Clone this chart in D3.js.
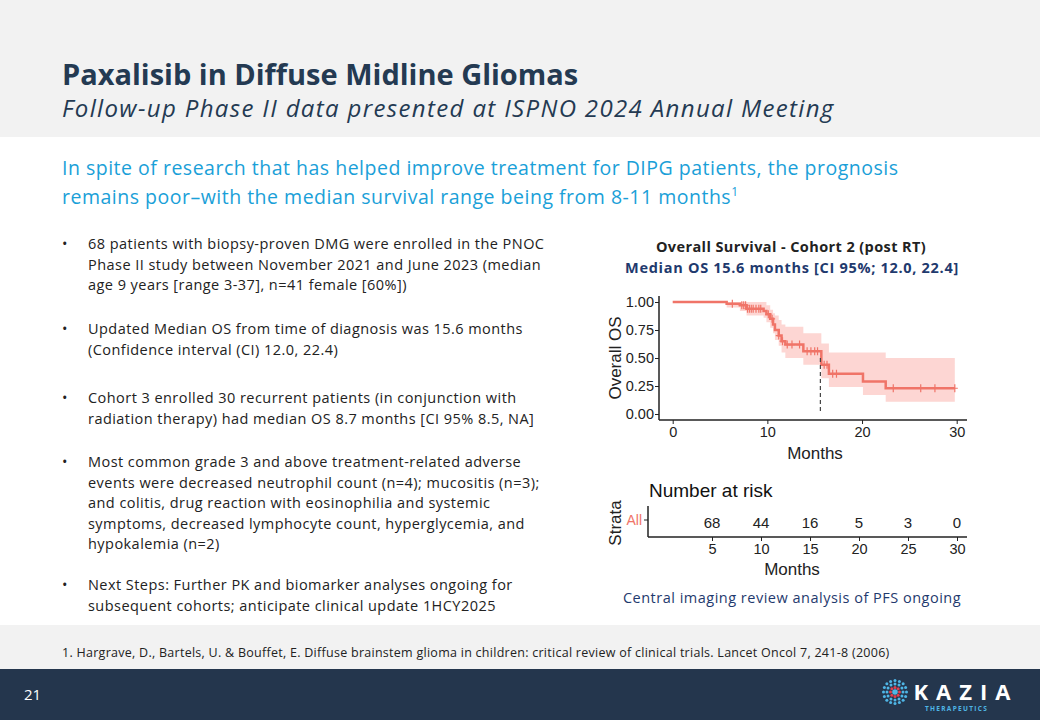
<!DOCTYPE html><html><head><meta charset="utf-8"><script src="https://cdn.jsdelivr.net/npm/d3@7"></script>
<style>body{margin:0}</style></head><body>
<svg id="s" width="1040" height="720" font-family="Open Sans, sans-serif"></svg>
<script>
const survT=[0,5.7,7.1,7.8,9.6,9.9,10.3,10.6,10.8,11.2,11.5,11.9,13.8,15.7,16.5,20.1,22.5,29.8];
const survS=[1,0.985,0.97,0.94,0.92,0.89,0.85,0.80,0.75,0.70,0.65,0.62,0.56,0.44,0.36,0.29,0.23,0.23];
const ciUp=[1,1,1,1,1,0.97,0.93,0.90,0.88,0.84,0.80,0.78,0.72,0.63,0.55,0.55,0.50,0.50];
const ciLo=[1,0.95,0.92,0.88,0.86,0.82,0.77,0.72,0.66,0.61,0.55,0.50,0.44,0.32,0.24,0.17,0.11,0.11];
const censor=[6.3,7.3,7.5,7.7,7.9,8.1,8.3,8.5,8.8,9.1,9.3,10.1,10.5,11.2,11.6,12.1,12.6,13.4,14.2,14.6,15.0,15.3,16.0,16.3,16.9,17.3,23.3,26.2,27.7,29.8];
const xTicks=[0,10,20,30], yTicks=[0,0.25,0.5,0.75,1];
const riskT=[5,10,15,20,25,30], riskN=[68,44,16,5,3,0];
const medianOS=15.6;
const bullets=[
["68 patients with biopsy-proven DMG were enrolled in the PNOC","Phase II study between November 2021 and June 2023 (median","age 9 years [range 3-37], n=41 female [60%])"],
["Updated Median OS from time of diagnosis was 15.6 months","(Confidence interval (CI) 12.0, 22.4)"],
["Cohort 3 enrolled 30 recurrent patients (in conjunction with","radiation therapy) had median OS 8.7 months [CI 95% 8.5, NA]"],
["Most common grade 3 and above treatment-related adverse","events were decreased neutrophil count (n=4); mucositis (n=3);","and colitis, drug reaction with eosinophilia and systemic","symptoms, decreased lymphocyte count, hyperglycemia, and","hypokalemia (n=2)"],
["Next Steps:  Further PK and biomarker analyses ongoing for","subsequent cohorts; anticipate clinical update 1HCY2025"]];
const bulletY=[249,334,403,467,590];
const svg=d3.select("#s");
svg.append("rect").attr("width",1040).attr("height",720).attr("fill","#fff");
svg.append("rect").attr("width",1040).attr("height",137).attr("fill","#f2f2f2");
svg.append("rect").attr("y",625).attr("width",1040).attr("height",44).attr("fill","#f2f2f2");
svg.append("rect").attr("y",669).attr("width",1040).attr("height",51).attr("fill","#24364d");
svg.append("text").attr("x",62).attr("y",85).attr("font-size",29).attr("font-weight",700).attr("fill","#243a52").text("Paxalisib in Diffuse Midline Gliomas");
svg.append("text").attr("x",62).attr("y",117).attr("font-size",24).attr("letter-spacing",1.35).attr("font-style","italic").attr("fill","#243a52").text("Follow-up Phase II data presented at ISPNO 2024 Annual Meeting");
svg.append("text").attr("x",62).attr("y",175).attr("font-size",19.5).attr("letter-spacing",0.5).attr("fill","#1aa0d8").text("In spite of research that has helped improve treatment for DIPG patients, the prognosis");
const l2=svg.append("text").attr("x",62).attr("y",204).attr("font-size",19.5).attr("letter-spacing",0.5).attr("fill","#1aa0d8").text("remains poor\u2013with the median survival range being from 8-11 months");
l2.append("tspan").attr("font-size",12).attr("dy",-8).text("1");
bullets.forEach((b,i)=>{svg.append("text").attr("x",62).attr("y",bulletY[i]).attr("font-size",14.5).attr("fill","#222").text("\u2022");
 b.forEach((l,j)=>svg.append("text").attr("x",88).attr("y",bulletY[i]+j*20.5).attr("font-size",14.5).attr("letter-spacing",0.45).attr("fill","#222").text(l));});
svg.append("text").attr("x",62).attr("y",657).attr("font-size",12.5).attr("letter-spacing",0.27).attr("fill","#222").text("1. Hargrave, D., Bartels, U. & Bouffet, E. Diffuse brainstem glioma in children: critical review of clinical trials. Lancet Oncol 7, 241-8 (2006)");
svg.append("text").attr("x",24).attr("y",700).attr("font-size",15).attr("fill","#fff").text("21");
svg.append("text").attr("x",966).attr("y",700).attr("text-anchor","middle").attr("font-size",22).attr("font-weight",700).attr("letter-spacing",8).attr("fill","#fff").text("KAZIA");
svg.append("text").attr("x",925).attr("y",711).attr("font-size",6.5).attr("font-weight",700).attr("letter-spacing",1.3).attr("fill","#4fb6e6").text("THERAPEUTICS");
[[4.5,8,"#e04050"],[8,12,"#4fb6e6"],[11.5,16,"#4fb6e6"]].forEach(([r,n,c])=>{for(let k=0;k<n;k++){const a=2*Math.PI*k/n;svg.append("circle").attr("cx",895+r*Math.cos(a)).attr("cy",692+r*Math.sin(a)).attr("r",1.5).attr("fill",c);}});
svg.append("circle").attr("cx",895).attr("cy",692).attr("r",2.8).attr("fill","#4fb6e6");
svg.append("text").attr("x",791).attr("y",252).attr("text-anchor","middle").attr("font-size",14.5).attr("letter-spacing",0.4).attr("font-weight",700).attr("fill","#222").text("Overall Survival - Cohort 2 (post RT)");
svg.append("text").attr("x",792).attr("y",273).attr("text-anchor","middle").attr("font-size",14.5).attr("letter-spacing",0.7).attr("font-weight",700).attr("fill","#1f3a6e").text("Median OS 15.6 months [CI 95%; 12.0, 22.4]");
svg.append("text").attr("x",792).attr("y",603).attr("text-anchor","middle").attr("font-size",14.5).attr("letter-spacing",0.5).attr("fill","#1f3a6e").text("Central imaging review analysis of PFS ongoing");
// KM
const x=d3.scaleLinear().domain([0,30]).range([672.7,956.7]);
const y=d3.scaleLinear().domain([0,1]).range([414,302]);
const NF="Liberation Sans, Arial, sans-serif";
const g=svg.append("g").attr("font-family",NF);
const area=d3.area().curve(d3.curveStepAfter).x(d=>x(d[0])).y0(d=>y(d[2])).y1(d=>y(d[1]));
g.append("path").datum(survT.map((t,i)=>[t,ciUp[i],ciLo[i]])).attr("d",area).attr("fill","#f8766d").attr("opacity",0.3);
const line=d3.line().curve(d3.curveStepAfter).x(d=>x(d[0])).y(d=>y(d[1]));
g.append("path").datum(survT.map((t,i)=>[t,survS[i]])).attr("d",line).attr("fill","none").attr("stroke","#f07468").attr("stroke-width",2.5);
const stepAt=t=>{let s=1;survT.forEach((tt,i)=>{if(tt<=t)s=survS[i]});return s;};
censor.forEach(c=>g.append("path").attr("d",`M${x(c)},${y(stepAt(c))-4}v8M${x(c)-3},${y(stepAt(c))}h6`).attr("stroke","#f07468").attr("stroke-width",1.2));
g.append("line").attr("x1",x(medianOS)).attr("x2",x(medianOS)).attr("y1",y(0.5)).attr("y2",y(0)).attr("stroke","#444").attr("stroke-dasharray","4,3").attr("stroke-width",1.2);
const ax=g.append("g").attr("transform","translate(0,420)").call(d3.axisBottom(x).tickValues(xTicks).tickSize(4).tickFormat(d3.format("d")));
ax.select(".domain").attr("d","M659,0H967").attr("stroke","#222").attr("stroke-width",1.5);
const ay=g.append("g").attr("transform","translate(659,0)").call(d3.axisLeft(y).tickValues(yTicks).tickSize(4).tickFormat(d3.format(".2f")));
ay.select(".domain").attr("d","M0,296V420").attr("stroke","#222").attr("stroke-width",1.5);
g.append("text").attr("x",815).attr("y",459).attr("text-anchor","middle").attr("font-size",17).attr("fill","#222").text("Months");
g.append("text").attr("transform","translate(621,358) rotate(-90)").attr("text-anchor","middle").attr("font-size",17).attr("fill","#222").text("Overall OS");
// risk table
const xr=d3.scaleLinear().domain([5,30]).range([712,957]);
g.append("text").attr("x",649).attr("y",497).attr("font-size",19).attr("fill","#111").text("Number at risk");
riskT.forEach((t,i)=>g.append("text").attr("x",xr(t)).attr("y",528).attr("text-anchor","middle").attr("font-size",15).attr("fill","#222").text(riskN[i]));
const rx=g.append("g").attr("transform","translate(0,537)").call(d3.axisBottom(xr).tickValues(riskT).tickSize(4));
rx.select(".domain").attr("d","M648,0H967").attr("stroke","#222").attr("stroke-width",1.5);
const ry=g.append("g").attr("transform","translate(648,0)");
ry.append("line").attr("y1",506).attr("y2",537).attr("stroke","#222").attr("stroke-width",1.5);
ry.append("line").attr("x1",-4).attr("y1",520).attr("y2",520).attr("stroke","#222");
ry.append("text").attr("x",-6).attr("y",525).attr("text-anchor","end").attr("font-size",14).attr("fill","#f07468").text("All");
g.append("text").attr("x",792).attr("y",575).attr("text-anchor","middle").attr("font-size",17).attr("fill","#222").text("Months");
g.append("text").attr("transform","translate(621,523) rotate(-90)").attr("text-anchor","middle").attr("font-size",17).attr("fill","#222").text("Strata");
[ax,ay,rx].forEach(a=>{a.attr("font-family",NF);a.selectAll("text").attr("font-size",14.5).attr("fill","#222");a.selectAll(".tick line").attr("stroke","#222");});
ay.selectAll("text").attr("x",-5);
</script></body></html>
